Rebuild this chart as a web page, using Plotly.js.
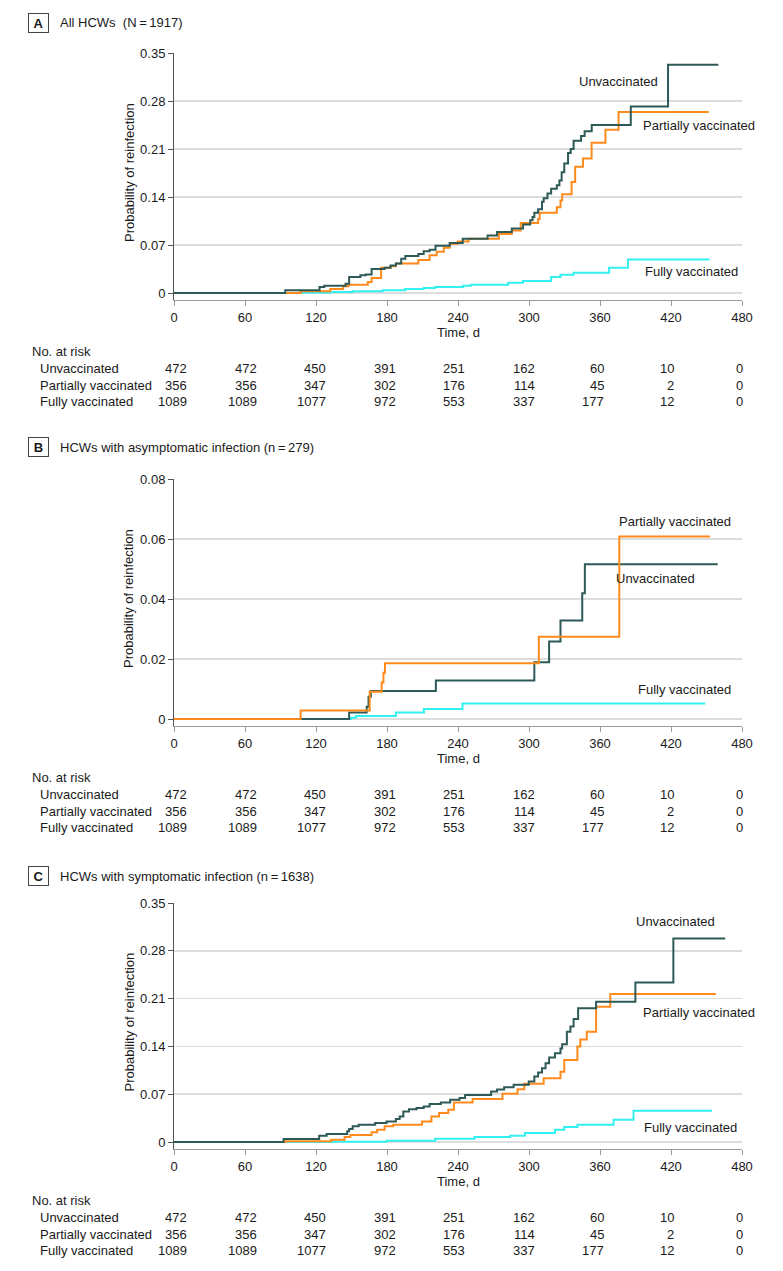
<!DOCTYPE html>
<html>
<head>
<meta charset="utf-8">
<script src="https://cdn.plot.ly/plotly-3.0.1.min.js"></script>
<style>
  html, body { margin: 0; padding: 0; background: #fff; }
  #chart { width: 783px; height: 1271px; }
</style>
</head>
<body>
<div id="chart"></div>
<script>
// ---------- Data ----------
const groupNames = ["Unvaccinated", "Partially vaccinated", "Fully vaccinated"];
const riskTimes = [0, 60, 120, 180, 240, 300, 360, 420, 480];
const riskUnv  = [472, 472, 450, 391, 251, 162, 60, 10, 0];
const riskPart = [356, 356, 347, 302, 176, 114, 45, 2, 0];
const riskFull = [1089, 1089, 1077, 972, 553, 337, 177, 12, 0];

// Panel A: All HCWs
const aUnvX = [0, 94, 123, 127, 145, 148, 157.5, 162, 167, 178, 183, 187.5, 192, 195.5, 206.5, 211, 216, 221, 233, 244, 265, 273, 285.5, 295, 301, 303, 304.5, 307.7, 311, 312.4, 315.6, 318.7, 323.5, 325.7, 327.6, 329.8, 333, 335.2, 337.7, 344, 347, 353, 386, 417.5, 460];
const aUnvY = [0, 0.004, 0.0087, 0.0107, 0.0136, 0.0233, 0.0258, 0.027, 0.035, 0.037, 0.040, 0.043, 0.050, 0.054, 0.057, 0.061, 0.063, 0.069, 0.073, 0.079, 0.084, 0.089, 0.094, 0.100, 0.106, 0.111, 0.117, 0.122, 0.133, 0.138, 0.145, 0.152, 0.157, 0.164, 0.176, 0.189, 0.204, 0.210, 0.222, 0.229, 0.236, 0.245, 0.272, 0.333, 0.333];
const aPartX = [0, 107, 132, 143, 147.4, 163.8, 167, 175, 183, 187.5, 206.5, 216, 222, 228, 233, 239.7, 249, 274.5, 285.5, 293, 307.7, 309, 323.5, 326.6, 328, 336, 339, 345.6, 352.9, 364.6, 375.7, 452];
const aPartY = [0, 0.0024, 0.006, 0.010, 0.012, 0.016, 0.022, 0.037, 0.039, 0.043, 0.048, 0.055, 0.060, 0.066, 0.072, 0.075, 0.079, 0.086, 0.091, 0.102, 0.108, 0.117, 0.125, 0.135, 0.144, 0.162, 0.184, 0.196, 0.219, 0.238, 0.264, 0.264];
const aFullX = [0, 107, 132, 151, 176.4, 195.4, 211, 220.7, 244.4, 250.8, 282.4, 295, 318.7, 326.6, 337.7, 367.7, 383.6, 452.5];
const aFullY = [0, 0.0005, 0.0015, 0.0024, 0.0039, 0.0058, 0.0073, 0.0088, 0.0107, 0.012, 0.015, 0.0175, 0.0233, 0.0267, 0.0297, 0.037, 0.049, 0.049];

// Panel B: asymptomatic
const bUnvX = [0, 148, 162.8, 164.4, 166.3, 221.3, 304.5, 317, 326.6, 345, 347.2, 459.5];
const bUnvY = [0, 0.0022, 0.0041, 0.0074, 0.0093, 0.0128, 0.0189, 0.0258, 0.0328, 0.0419, 0.0516, 0.0516];
const bPartX = [0, 107, 165.4, 175.5, 177, 178.3, 308.3, 376.3, 453];
const bPartY = [0, 0.0028, 0.0091, 0.0122, 0.0154, 0.0186, 0.0274, 0.0608, 0.0608];
const bFullX = [0, 149.6, 153.7, 187.5, 211.2, 243.8, 449];
const bFullY = [0, 0.0004, 0.001, 0.0022, 0.0033, 0.0052, 0.0052];

// Panel C: symptomatic
const cUnvX = [0, 92.6, 122.7, 129, 146.4, 148, 151, 156, 170, 179.6, 187.5, 190.7, 193.8, 198.6, 205, 211, 216, 225.5, 233.4, 241.3, 246, 268, 273, 279, 287, 299.8, 304.5, 307.7, 311, 314, 317, 321.9, 326.6, 328, 332, 335, 337.7, 341.5, 356.7, 389.9, 422, 465.8];
const cUnvY = [0, 0.0044, 0.0092, 0.0117, 0.0156, 0.019, 0.0229, 0.0253, 0.0277, 0.030, 0.0336, 0.0375, 0.0448, 0.048, 0.0497, 0.052, 0.0555, 0.058, 0.0618, 0.0643, 0.069, 0.074, 0.077, 0.080, 0.0837, 0.0886, 0.0959, 0.1017, 0.108, 0.1154, 0.1236, 0.130, 0.137, 0.143, 0.1616, 0.169, 0.180, 0.1957, 0.2054, 0.2337, 0.298, 0.298];
const cPartX = [0, 94.2, 132.8, 144.2, 149, 167, 171.7, 178, 185.3, 209.6, 217.5, 224, 231.8, 236.5, 252.3, 277.6, 290.3, 296, 312.4, 326.6, 329.8, 340.9, 343.4, 348.8, 356.7, 368.7, 457.9];
const cPartY = [0, 0.001, 0.0034, 0.0073, 0.0102, 0.0141, 0.018, 0.0229, 0.0253, 0.030, 0.0375, 0.0424, 0.0472, 0.058, 0.063, 0.0706, 0.0774, 0.0852, 0.0935, 0.103, 0.120, 0.1397, 0.150, 0.1616, 0.198, 0.2166, 0.2166];
const cFullX = [0, 133.8, 179.6, 220.7, 254, 284, 296.6, 321.9, 329.8, 340.9, 371.5, 388.3, 454.7];
const cFullY = [0, 0.0005, 0.002, 0.0049, 0.0073, 0.0092, 0.013, 0.018, 0.0219, 0.0253, 0.0326, 0.0458, 0.0458];

const panelLetters = ["A", "B", "C"];
const panelTitles = ["All HCWs  (N\u2009=\u20091917)", "HCWs with asymptomatic infection (n\u2009=\u2009279)", "HCWs with symptomatic infection (n\u2009=\u20091638)"];
const yTicksAC = [0, 0.07, 0.14, 0.21, 0.28, 0.35];
const yTickTextAC = ["0", "0.07", "0.14", "0.21", "0.28", "0.35"];
const yTicksB = [0, 0.02, 0.04, 0.06, 0.08];
const yTickTextB = ["0", "0.02", "0.04", "0.06", "0.08"];
const xTicks = [0, 60, 120, 180, 240, 300, 360, 420, 480];

// ---------- Styling / layout ----------
const W = 783, H = 1271;
const FONT = '"Liberation Sans", Arial, sans-serif';
const FS = 13;
const TXT = '#1a1a1a';
const COL = { unv: '#2d5a56', part: '#ff8a1c', full: '#33f0f0' };
const py = y => 1 - y / H;
const px = x => x / W;

// pixel geometry for each panel: title y, top (max tick) y, zero y, axis y
const panels = [
  { title: 23, top: 53, zero: 293, axis: 299.5, ymax: 0.35, ticks: yTicksAC, ttext: yTickTextAC },
  { title: 447, top: 479, zero: 719, axis: 725.5, ymax: 0.08, ticks: yTicksB, ttext: yTickTextB },
  { title: 876, top: 903, zero: 1142, axis: 1148.5, ymax: 0.35, ticks: yTicksAC, ttext: yTickTextAC }
];

const series = [
  [[aFullX, aFullY, 'full'], [aPartX, aPartY, 'part'], [aUnvX, aUnvY, 'unv']],
  [[bFullX, bFullY, 'full'], [bUnvX, bUnvY, 'unv'], [bPartX, bPartY, 'part']],
  [[cFullX, cFullY, 'full'], [cPartX, cPartY, 'part'], [cUnvX, cUnvY, 'unv']]
];

// curve-end label positions (data coordinates)
const curveLabels = [
  [["Unvaccinated", 376, 0.309], ["Partially vaccinated", 444, 0.2437], ["Fully vaccinated", 437, 0.031]],
  [["Partially vaccinated", 423.6, 0.0659], ["Unvaccinated", 406.7, 0.0467], ["Fully vaccinated", 431, 0.010]],
  [["Unvaccinated", 423.6, 0.323], ["Partially vaccinated", 443.6, 0.189], ["Fully vaccinated", 436.8, 0.0208]]
];

const traces = [];
const layout = {
  width: W, height: H,
  margin: { l: 0, r: 0, t: 0, b: 0 },
  paper_bgcolor: '#fff', plot_bgcolor: '#fff',
  showlegend: false,
  font: { family: FONT, size: FS, color: TXT },
  annotations: []
};

panels.forEach((p, i) => {
  const sfx = i === 0 ? '' : String(i + 1);
  const xa = 'x' + sfx, ya = 'y' + sfx;
  const perPx = p.ymax / (p.zero - p.top);
  const ymin = -(p.axis - p.zero) * perPx;

  series[i].forEach(([xs, ys, key]) => {
    traces.push({
      type: 'scatter', mode: 'lines', x: xs, y: ys,
      xaxis: xa, yaxis: ya,
      line: { shape: 'hv', color: COL[key], width: 2 },
      hoverinfo: 'skip'
    });
  });

  layout['xaxis' + sfx] = {
    domain: [px(174), px(742)],
    range: [0, 480], anchor: ya,
    tickvals: xTicks, ticktext: xTicks.map(String),
    showgrid: false, zeroline: false,
    showline: true, linecolor: '#9a9a9a', linewidth: 1.5,
    ticks: 'outside', ticklen: 5, tickcolor: '#9a9a9a', tickwidth: 1,
    tickfont: { family: FONT, size: FS, color: TXT },
    fixedrange: true
  };
  layout['yaxis' + sfx] = {
    domain: [py(p.axis), py(p.top)],
    range: [ymin, p.ymax], anchor: xa,
    tickvals: p.ticks, ticktext: p.ttext,
    showgrid: true, gridcolor: '#dddddd', gridwidth: 1.5,
    zeroline: false,
    showline: true, linecolor: '#555555', linewidth: 1,
    ticks: 'outside', ticklen: 5, tickcolor: '#555555', tickwidth: 1,
    tickfont: { family: FONT, size: FS, color: TXT },
    fixedrange: true
  };

  const A = layout.annotations;
  // panel letter box
  A.push({ xref: 'paper', yref: 'paper', x: px(38), y: py(p.title), xanchor: 'center', yanchor: 'middle',
    text: '<b>' + panelLetters[i] + '</b>', showarrow: false, font: { family: FONT, size: 13, color: TXT },
    bordercolor: '#444', borderwidth: 1, borderpad: 2, width: 15, height: 14 });
  // title
  A.push({ xref: 'paper', yref: 'paper', x: px(58), y: py(p.title), xanchor: 'left', yanchor: 'middle',
    text: panelTitles[i], showarrow: false, font: { family: FONT, size: FS, color: TXT } });
  // y axis title
  A.push({ xref: 'paper', yref: 'paper', x: px(129), y: py((p.top + p.zero) / 2), xanchor: 'center', yanchor: 'middle',
    text: 'Probability of reinfection', textangle: -90, showarrow: false, font: { family: FONT, size: FS, color: TXT } });
  // x axis title
  A.push({ xref: xa, yref: 'paper', x: 240, y: py(p.axis + 33), xanchor: 'center', yanchor: 'middle',
    text: 'Time, d', showarrow: false, font: { family: FONT, size: FS, color: TXT } });
  // curve labels
  curveLabels[i].forEach(([t, x, y]) => {
    A.push({ xref: xa, yref: ya, x: x, y: y, xanchor: 'center', yanchor: 'middle',
      text: t, showarrow: false, font: { family: FONT, size: FS, color: TXT } });
  });
  // risk table
  A.push({ xref: 'paper', yref: 'paper', x: px(30), y: py(p.axis + 52), xanchor: 'left', yanchor: 'middle',
    text: 'No. at risk', showarrow: false, font: { family: FONT, size: FS, color: TXT } });
  const rows = [riskUnv, riskPart, riskFull];
  const rowY = [69, 85.5, 102];
  rows.forEach((vals, r) => {
    A.push({ xref: 'paper', yref: 'paper', x: px(38), y: py(p.axis + rowY[r]), xanchor: 'left', yanchor: 'middle',
      text: groupNames[r], showarrow: false, font: { family: FONT, size: FS, color: TXT } });
    vals.forEach((v, k) => {
      A.push({ xref: xa, yref: 'paper', x: riskTimes[k], y: py(p.axis + rowY[r]), xanchor: 'right', yanchor: 'middle',
        xshift: 15 - 1.5 * k, text: String(v), showarrow: false, font: { family: FONT, size: FS, color: TXT } });
    });
  });
});

Plotly.newPlot('chart', traces, layout, { staticPlot: true, displayModeBar: false });
</script>
</body>
</html>
